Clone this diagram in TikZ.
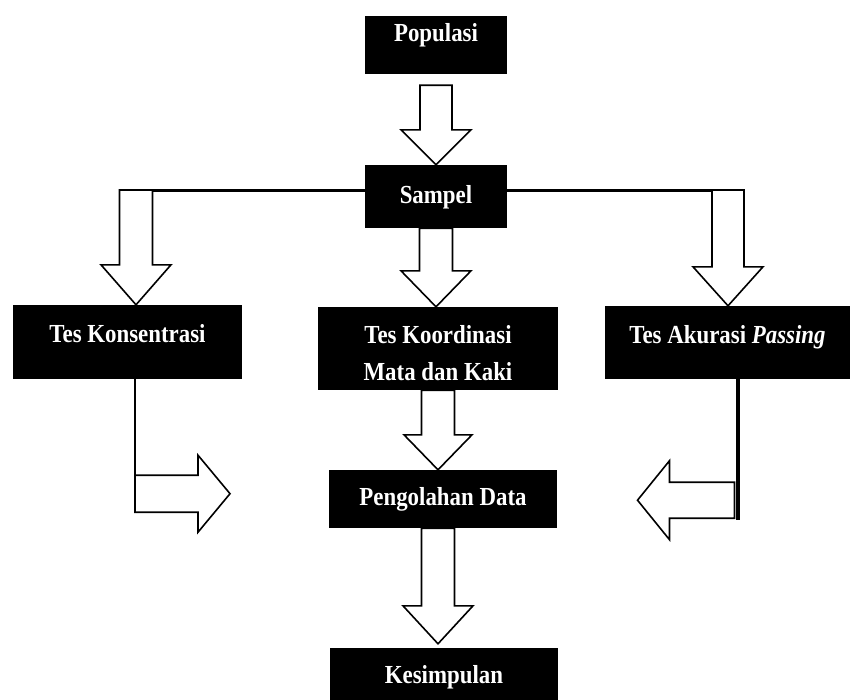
\documentclass[tikz,border=0pt]{standalone}
\usepackage{fontspec}
\setmainfont{Liberation Serif}[FakeStretch=0.88]
\usepackage{tikz}
\usetikzlibrary{calc, positioning}
\usepackage{xcolor}
\definecolor{boxBlack}{HTML}{000000}
\definecolor{boxText}{HTML}{FFFFFF}

% hollow block arrow: from (#1) to tip (#2), shaft half width #3, head half width #4, head length #5
\newcommand{\fatarrow}[5]{%
  \coordinate (fa-h) at ($(#2)!#5!(#1)$);
  \draw[fatline] ($(#1)!#3!90:(#2)$) -- ($(fa-h)!#3!90:(#2)$) -- ($(fa-h)!#4!90:(#2)$)
    -- (#2) -- ($(fa-h)!#4!-90:(#2)$) -- ($(fa-h)!#3!-90:(#2)$) -- ($(#1)!#3!-90:(#2)$) -- cycle;}

\begin{document}
\begin{tikzpicture}[x=1pt, y=-1pt,
    box/.style n args={3}{fill=boxBlack, text=boxText, inner sep=0pt,
      font=\fontsize{26}{37}\selectfont\bfseries,
      minimum width=#1, text height=#2, text depth=#3},
    fatline/.style={draw=black, fill=white, line width=1.6pt, line join=miter},
    joinline/.style={draw=black, line width=3pt}]
  \useasboundingbox (0,0) rectangle (853,699);

  % boxes
  \node[box={142}{25}{33}] (pop) at (436,45) {Populasi};
  \node[box={142}{38}{25}] (samp) at (436,196.5) {Sampel};
  \node[box={229}{37}{37}] (kons) at (127.5,342) {Tes Konsentrasi};
  \node[box={240}{73}{10}, align=center] (koord) at (438,348.5) {Tes Koordinasi\\Mata dan Kaki};
  \node[box={245}{37}{36}] (akur) at (727.5,342.5) {Tes Akurasi \textit{Passing}};
  \node[box={228}{35}{23}] (olah) at (443,499) {Pengolahan Data};
  \node[box={228}{35}{22}] (simp) at (444,676.5) {Kesimpulan};

  % branch line from Sampel
  \coordinate (lt) at (136,190);
  \coordinate (rt) at (728,190);
  \draw[joinline] (samp.west |- lt) -- (lt);
  \draw[joinline] (samp.east |- rt) -- (rt);

  % down arrows
  \coordinate (p1) at ($(pop.south)+(0,11)$);
  \fatarrow{p1}{samp.north}{16pt}{35pt}{35pt}
  \coordinate (ltip) at (lt |- kons.north);
  \fatarrow{lt}{ltip}{16.5pt}{35pt}{40pt}
  \coordinate (rtip) at (rt |- akur.north);
  \fatarrow{rt}{rtip}{16pt}{35pt}{39pt}
  \coordinate (mtip) at (samp.south |- koord.north);
  \fatarrow{samp.south}{mtip}{16.5pt}{35pt}{36pt}
  \coordinate (k1) at (koord.south |- koord.south);
  \coordinate (k2) at (koord.south |- olah.north);
  \fatarrow{k1}{k2}{16.5pt}{34pt}{35pt}
  \coordinate (o1) at (koord.south |- olah.south);
  \coordinate (o2) at ($(koord.south |- simp.north)+(0,-4)$);
  \fatarrow{o1}{o2}{16.5pt}{35pt}{38pt}

  % side arrows into Pengolahan Data
  \coordinate (lk) at ([xshift=7.5pt]kons.south);
  \coordinate (ls) at ($(lk)+(0,114.5)$);
  \coordinate (le) at ($(ls)+(95,0)$);
  \fatarrow{ls}{le}{18.5pt}{38.5pt}{32pt}
  \draw[black, line width=2.5pt] (lk) -- ($(lk)+(0,133)$);

  \coordinate (rk) at ([xshift=10pt]akur.south);
  \coordinate (rs) at ($(rk)+(-3,121)$);
  \coordinate (re) at ($(rs)+(-97,0)$);
  \fatarrow{rs}{re}{18pt}{39.5pt}{32pt}
  \draw[black, line width=4pt] (rk) -- ($(rk)+(0,141)$);
\end{tikzpicture}
\end{document}
